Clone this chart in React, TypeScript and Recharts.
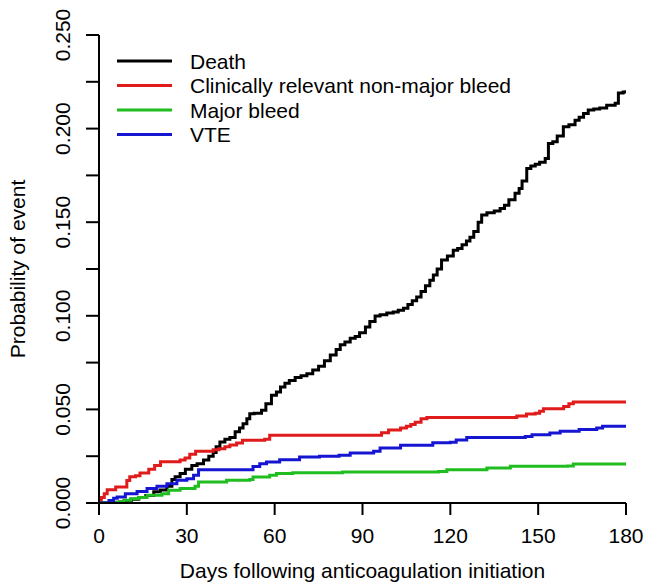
import { LineChart, Line, XAxis, YAxis } from "recharts";

const FONT = '"Liberation Sans", Arial, Helvetica, sans-serif';

const xTicks = [0, 30, 60, 90, 120, 150, 180];
const yTicks = [0, 0.025, 0.05, 0.075, 0.1, 0.125, 0.15, 0.175, 0.2, 0.225, 0.25];
const yTickLabels = ["0.000", "", "0.050", "", "0.100", "", "0.150", "", "0.200", "", "0.250"];

const seriesNames = ["Death", "Clinically relevant non-major bleed", "Major bleed", "VTE"];
const seriesColors = ["#000000", "#e01b1b", "#1fbd1f", "#1616d2"];

// [day, cumulative probability]
const death: [number, number][] = [
  [0, 0], [7, 0.0005], [9.6, 0.001], [11, 0.002], [13.6, 0.003], [16, 0.004], [18.7, 0.006],
  [21, 0.007], [23.2, 0.009], [24.9, 0.0125], [26, 0.014], [27.7, 0.0157], [29.5, 0.018],
  [31.7, 0.02], [33.5, 0.021], [35.7, 0.023], [37.5, 0.025], [39, 0.027], [40, 0.03],
  [41.3, 0.0326], [43, 0.034], [44.7, 0.035], [46.5, 0.038], [48, 0.04], [49.2, 0.0424],
  [50.5, 0.045], [51.5, 0.0477], [53, 0.048], [55.5, 0.0495], [57, 0.053], [58.9, 0.0575],
  [60.6, 0.0593], [62, 0.062], [63.5, 0.064], [65, 0.0655], [67, 0.067], [69, 0.068],
  [71, 0.069], [73, 0.071], [75, 0.073], [77, 0.076], [79, 0.079], [81, 0.082], [82.4, 0.0845],
  [84, 0.086], [85.8, 0.088], [87.5, 0.089], [89, 0.091], [91, 0.094], [92.5, 0.097],
  [94.3, 0.0999], [96, 0.1005], [98.3, 0.1015], [100.5, 0.102], [102.2, 0.103], [104, 0.104],
  [105.5, 0.106], [107, 0.108], [108.5, 0.11], [110, 0.113], [111.5, 0.116], [113, 0.119],
  [114.2, 0.1218], [115.5, 0.125], [117, 0.1298], [119, 0.132], [121, 0.135], [122.5, 0.136],
  [124, 0.138], [125.5, 0.14], [126.7, 0.142], [128, 0.145], [129.5, 0.15], [130.7, 0.1538],
  [132.5, 0.155], [135, 0.156], [137, 0.1573], [138.5, 0.159], [140, 0.162], [142.1, 0.1654],
  [143.5, 0.168], [144.5, 0.172], [146.1, 0.1787], [147.5, 0.18], [149, 0.181], [150.5, 0.182],
  [152.4, 0.184], [153.5, 0.192], [155, 0.193], [156.5, 0.196], [158.6, 0.201], [160.5, 0.202],
  [162.6, 0.2045], [164, 0.206], [165.5, 0.208], [167.1, 0.21], [169, 0.2105], [171, 0.211],
  [173.4, 0.2125], [176.3, 0.2135], [177.4, 0.219], [179, 0.2195], [180, 0.2205],
];

const crnmBleed: [number, number][] = [
  [0, 0], [0.8, 0.003], [1.8, 0.005], [2.8, 0.0071], [5.7, 0.0085], [9.5, 0.012], [10.5, 0.014],
  [12.5, 0.0145], [14, 0.016], [17, 0.018], [19, 0.02], [21, 0.022], [27.7, 0.023], [29.4, 0.024],
  [31, 0.026], [33, 0.0276], [39, 0.0285], [41, 0.029], [43, 0.03], [44.7, 0.031], [47, 0.032],
  [49, 0.0335], [56.6, 0.034], [58.3, 0.0362], [96.5, 0.0375], [98.9, 0.039], [103, 0.04],
  [105, 0.041], [106.5, 0.042], [108, 0.0432], [110, 0.045], [112, 0.0457], [142.7, 0.0465],
  [146, 0.0475], [149, 0.048], [150.5, 0.049], [151.8, 0.0504], [158.7, 0.0515], [160.5, 0.053],
  [162, 0.054], [180, 0.054],
];

const majorBleed: [number, number][] = [
  [0, 0], [6.2, 0.0005], [8.5, 0.0015], [10.8, 0.0023], [13.5, 0.003], [16.4, 0.0041],
  [21.5, 0.005], [23.8, 0.0068], [27.7, 0.0077], [32.8, 0.0089], [34, 0.0112], [43.6, 0.0121],
  [51.5, 0.0125], [52.6, 0.0139], [58.3, 0.0148], [60.6, 0.0157], [66.2, 0.0162], [83.2, 0.0165],
  [116, 0.0168], [118.8, 0.0178], [132.5, 0.0187], [140.5, 0.0196], [160, 0.0198], [162, 0.0208],
  [180, 0.0208],
];

const vte: [number, number][] = [
  [0, 0], [3.4, 0.0014], [5, 0.0025], [6.2, 0.0032], [9, 0.005], [13, 0.0062], [16.4, 0.0077],
  [19.8, 0.0089], [23.2, 0.0103], [26.6, 0.0121], [30, 0.013], [32.3, 0.0148], [34, 0.0178],
  [52.6, 0.0195], [54.9, 0.021], [57.2, 0.0219], [61.7, 0.0231], [68.5, 0.0246], [75.3, 0.025],
  [82, 0.0255], [85.8, 0.0267], [93.8, 0.0276], [96, 0.0294], [103, 0.0308], [114, 0.0322],
  [120, 0.0325], [122, 0.0336], [125.6, 0.035], [145.6, 0.0355], [147.9, 0.0365], [154, 0.0374],
  [157.5, 0.0383], [164, 0.0392], [170, 0.04], [172, 0.041], [180, 0.041],
];

const toRows = (pts: [number, number][]) => pts.map(([day, p]) => ({ day, p }));
const seriesData = [death, crnmBleed, majorBleed, vte].map(toRows);

const XTick = (props: any) => {
  const { x, y, payload } = props;
  return (
    <text x={x} y={y + 28} textAnchor="middle" fontSize={21} fontFamily={FONT} fill="#000">
      {payload.value}
    </text>
  );
};

const YTick = (props: any) => {
  const { x, y, payload } = props;
  const label = yTickLabels[yTicks.indexOf(payload.value)];
  if (!label) return <g />;
  return (
    <text
      transform={`translate(${x - 16},${y}) rotate(-90)`}
      textAnchor="middle"
      fontSize={21}
      fontFamily={FONT}
      fill="#000"
    >
      {label}
    </text>
  );
};

const legendRows = [61, 85.5, 110, 134.5];

export default function App() {
  return (
    <div
      style={{
        position: "absolute",
        left: 0,
        top: 0,
        width: 645,
        height: 583,
        background: "#fff",
        fontFamily: FONT,
      }}
    >
      <LineChart width={645} height={583} margin={{ top: 35, right: 19, bottom: 0, left: 0 }}>
        <XAxis
          type="number"
          dataKey="day"
          domain={[0, 180]}
          ticks={xTicks}
          height={80}
          tickSize={12}
          tickMargin={0}
          axisLine={{ stroke: "#000", strokeWidth: 2 }}
          tickLine={{ stroke: "#000", strokeWidth: 2 }}
          tick={XTick}
          allowDataOverflow
          label={() => (
            <text x={362.5} y={578} textAnchor="middle" fontSize={21} fontFamily={FONT} fill="#000">
              Days following anticoagulation initiation
            </text>
          )}
        />
        <YAxis
          type="number"
          domain={[0, 0.25]}
          ticks={yTicks}
          width={99}
          tickSize={13}
          tickMargin={0}
          interval={0}
          axisLine={{ stroke: "#000", strokeWidth: 2 }}
          tickLine={{ stroke: "#000", strokeWidth: 2 }}
          tick={YTick}
          allowDataOverflow
          label={() => (
            <text
              transform="translate(25,269) rotate(-90)"
              textAnchor="middle"
              fontSize={21}
              fontFamily={FONT}
              fill="#000"
            >
              Probability of event
            </text>
          )}
        />
        {seriesData.map((rows, i) => (
          <Line
            key={seriesNames[i]}
            data={rows}
            dataKey="p"
            name={seriesNames[i]}
            type="stepAfter"
            stroke={seriesColors[i]}
            strokeWidth={3}
            dot={false}
            activeDot={false}
            isAnimationActive={false}
          />
        ))}
      </LineChart>
      <svg
        width={645}
        height={583}
        style={{ position: "absolute", left: 0, top: 0, pointerEvents: "none" }}
      >
        {seriesNames.map((name, i) => (
          <g key={name}>
            <line x1={117} x2={172} y1={legendRows[i]} y2={legendRows[i]} stroke={seriesColors[i]} strokeWidth={3} />
            <text x={190} y={legendRows[i] + 7.5} fontSize={21} fontFamily={FONT} fill="#000">
              {name}
            </text>
          </g>
        ))}
      </svg>
    </div>
  );
}
